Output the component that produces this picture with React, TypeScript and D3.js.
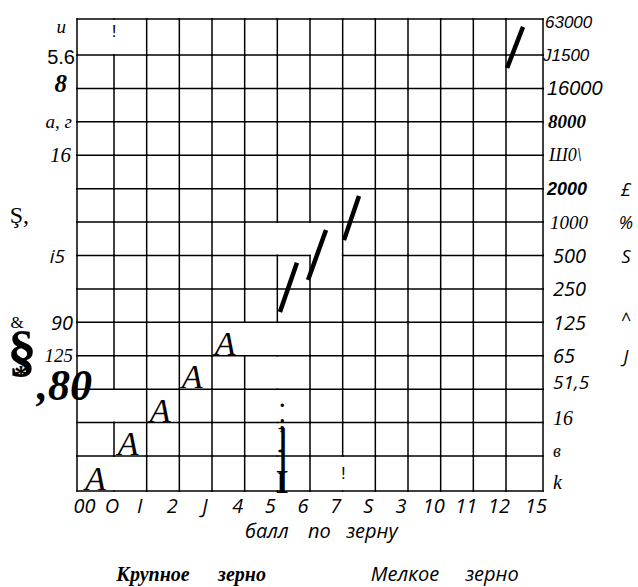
import React from 'react';
import * as d3 from 'd3';

const W = 638;
const H = 587;

// ruled grid, 14 x 14 cells
const nCols = 14;
const nRows = 14;

// gaps in the ruling: [line index, cell index]
const missingVertical = [[1, 0], [1, 11], [1, 13], [5, 9], [6, 6], [6, 9], [6, 10], [6, 11], [6, 12], [6, 13], [7, 6], [8, 13]];
const missingHorizontal = [[7, 7]];

// bottom scale
const xTickLabels = ['00', 'O', 'I', '2', 'J', '4', '5', '6', '7', 'S', '3', '10', '11', '12', '15'];
const xTitleWords = ['балл', 'по', 'зерну'];
const coarseWords = ['Крупное', 'зерно'];
const fineWords = ['Мелкое', 'зерно'];

// left scale (text + row where it sits)
const leftLabels = ['u', '5.6', '8', 'а, г', '16', 'Ş,', 'i5', '90', '125', ',80'];
const leftRows = [0.22, 1.05, 1.85, 3.0, 4.0, 5.8, 7.0, 9.0, 10.0, 10.9];
const leftMarks = ['&', '§', '*'];
const leftMarkRows = [9.0, 9.85, 10.55];

// right scale
const rightLabels = ['63000', 'J1500', '16000', '8000', 'Ш0\\', '2000', '1000', '500', '250', '125', '65', '51,5', '16', 'в', 'k'];
const rightRows = [0.1, 1.0, 2.0, 3.0, 4.0, 5.0, 6.0, 7.0, 8.0, 9.0, 10.0, 10.8, 11.85, 12.85, 13.75];
const rightMarks = ['£', '%', 'S', '^', 'J'];
const rightMarkRows = [5.0, 6.0, 7.0, 8.9, 10.0];

// "A" marks of the coarse grain staircase
const aCols = [0.5, 1.43, 2.41, 3.39, 4.4];
const aRows = [14, 13, 12, 11, 10];

// slashes of the fine grain: [col, row] start and end
const slashFrom = [[6.08, 8.69], [6.94, 7.73], [8.04, 6.54], [13.03, 1.39]];
const slashTo = [[6.6, 7.22], [7.49, 6.24], [8.5, 5.22], [13.46, 0.22]];

// stray glyphs
const bangCols = [1.0, 8.02];
const bangRows = [0.36, 13.5];
const breakGlyphs = ['.', ';', ']', ']', 'I'];
const breakRows = [11.53, 12.2, 12.73, 13.4, 14.05];

const serif = '"Liberation Serif", "Times New Roman", serif';
const sans = '"Liberation Sans", Arial, sans-serif';
const human = '"Open Sans", "Noto Sans", sans-serif';

const leftStyle = [
  { x: 66, f: serif, s: 19, it: true },
  { x: 75, f: sans, s: 20 },
  { x: 67, f: serif, s: 25, it: true, b: true },
  { x: 72, f: serif, s: 19, it: true },
  { x: 71, f: serif, s: 21, it: true },
  { x: 29, f: serif, s: 24 },
  { x: 65, f: human, s: 19, it: true },
  { x: 73, f: human, s: 20, it: true },
  { x: 73, f: serif, s: 19, it: true },
  { x: 92, f: serif, s: 44, it: true, b: true },
];
const leftMarkStyle = [
  { x: 17, f: serif, s: 17 },
  { x: 22, f: serif, s: 58, b: true },
  { x: 21, f: serif, s: 28, b: true },
];
const rightStyle = [
  { f: sans, s: 17, it: true },
  { f: sans, s: 17, it: true },
  { f: sans, s: 20, it: true },
  { f: serif, s: 19, it: true, b: true },
  { f: serif, s: 18, it: true },
  { f: sans, s: 18, it: true, b: true },
  { f: serif, s: 19, it: true },
  { f: human, s: 20, it: true },
  { f: human, s: 20, it: true },
  { f: human, s: 20, it: true },
  { f: human, s: 20, it: true },
  { f: human, s: 19, it: true },
  { f: serif, s: 20, it: true },
  { f: serif, s: 18, it: true },
  { f: serif, s: 20, it: true },
];
const rightDx = [2, 0, 4, 5, 6, 4, 7, 10, 10, 10, 10, 10, 10, 10, 10];

export default function App() {
  // columns / rows are a bit wider at the edges
  const gx = d3.scaleLinear().domain([0, 1, nCols - 1, nCols]).range([77, 114, 506, 543]);
  const gy = d3.scaleLinear().domain([0, 1, nRows - 1, nRows]).range([19, 55, 456, 491]);

  const isGap = (list: number[][], a: number, b: number) => list.some(d => d[0] === a && d[1] === b);

  const vLines: JSX.Element[] = [];
  for (let i = 0; i <= nCols; i++) {
    for (let r = 0; r < nRows; r++) {
      if (isGap(missingVertical, i, r)) continue;
      vLines.push(<line key={`v${i}-${r}`} x1={gx(i)} x2={gx(i)} y1={gy(r)} y2={gy(r + 1)} />);
    }
  }
  const hLines: JSX.Element[] = [];
  for (let j = 0; j <= nRows; j++) {
    for (let c = 0; c < nCols; c++) {
      if (isGap(missingHorizontal, j, c)) continue;
      hLines.push(<line key={`h${j}-${c}`} x1={gx(c)} x2={gx(c + 1)} y1={gy(j)} y2={gy(j)} />);
    }
  }

  const font = (st: any) => ({
    fontFamily: st.f,
    fontSize: st.s,
    fontStyle: st.it ? 'italic' : 'normal',
    fontWeight: st.b ? 'bold' : 'normal',
  });

  // word centres along the captions
  const titleX = d3.scalePoint().domain(xTitleWords).range([267, 372]);
  const coarseX = d3.scalePoint().domain(coarseWords).range([153, 242]);
  const fineX = d3.scalePoint().domain(fineWords).range([405, 492]);

  return (
    <svg width={W} height={H} style={{ position: 'absolute', left: 0, top: 0, background: '#fff' }}>
      <rect width={W} height={H} fill="#fff" />
      <g stroke="#000" strokeWidth={1.5} strokeLinecap="square">
        {vLines}
        {hLines}
      </g>

      {/* coarse grain marks */}
      {aCols.map((c, i) => (
        <text key={'a' + i} x={gx(c)} y={gy(aRows[i]) - 1} textAnchor="middle"
          style={{ fontFamily: serif, fontSize: 34, fontStyle: 'italic' }}>A</text>
      ))}

      {/* fine grain marks */}
      {slashFrom.map((p, i) => (
        <line key={'s' + i} x1={gx(p[0])} y1={gy(p[1])} x2={gx(slashTo[i][0])} y2={gy(slashTo[i][1])}
          stroke="#000" strokeWidth={4.5} />
      ))}

      {bangCols.map((c, i) => (
        <text key={'b' + i} x={gx(c)} y={gy(bangRows[i])} textAnchor="middle" dominantBaseline="central"
          style={{ fontFamily: sans, fontSize: 17 }}>!</text>
      ))}

      {breakGlyphs.map((g, i) => (
        <text key={'g' + i} x={gx(6.15)} y={gy(breakRows[i])} textAnchor="middle"
          style={{ fontFamily: serif, fontSize: g === 'I' ? 33 : g === ']' ? 28 : 20, fontWeight: 'bold' }}>{g}</text>
      ))}

      {/* left scale */}
      {leftLabels.map((t, i) => (
        <text key={'l' + i} x={leftStyle[i].x} y={gy(leftRows[i])} textAnchor="end" dominantBaseline="central"
          style={font(leftStyle[i])}>{t}</text>
      ))}
      {leftMarks.map((t, i) => (
        <text key={'lm' + i} x={leftMarkStyle[i].x} y={gy(leftMarkRows[i])} textAnchor="middle" dominantBaseline="central"
          style={font(leftMarkStyle[i])}>{t}</text>
      ))}

      {/* right scale */}
      {rightLabels.map((t, i) => (
        <text key={'r' + i} x={gx(nCols) + rightDx[i]} y={gy(rightRows[i])} dominantBaseline="central"
          style={font(rightStyle[i])}>{t}</text>
      ))}
      {rightMarks.map((t, i) => (
        <text key={'rm' + i} x={626} y={gy(rightMarkRows[i])} textAnchor="middle" dominantBaseline="central"
          style={{ fontFamily: human, fontSize: 18, fontStyle: 'italic' }}>{t}</text>
      ))}

      {/* bottom scale */}
      {xTickLabels.map((t, i) => (
        <text key={'x' + i} x={i === 0 ? gx(0.2) : i === 1 ? gx(1) - 2 : gx(i) - 7} y={505} textAnchor="middle" dominantBaseline="central"
          style={{ fontFamily: human, fontSize: 20, fontStyle: 'italic' }}>{t}</text>
      ))}
      {xTitleWords.map(w => (
        <text key={'t' + w} x={titleX(w)} y={530} textAnchor="middle" dominantBaseline="central"
          style={{ fontFamily: human, fontSize: 20, fontStyle: 'italic' }}>{w}</text>
      ))}

      {coarseWords.map(w => (
        <text key={'c' + w} x={coarseX(w)} y={574} textAnchor="middle" dominantBaseline="central"
          style={{ fontFamily: serif, fontSize: 20, fontStyle: 'italic', fontWeight: 'bold' }}>{w}</text>
      ))}
      {fineWords.map(w => (
        <text key={'f' + w} x={fineX(w)} y={573} textAnchor="middle" dominantBaseline="central"
          style={{ fontFamily: human, fontSize: 20, fontStyle: 'italic' }}>{w}</text>
      ))}
    </svg>
  );
}
